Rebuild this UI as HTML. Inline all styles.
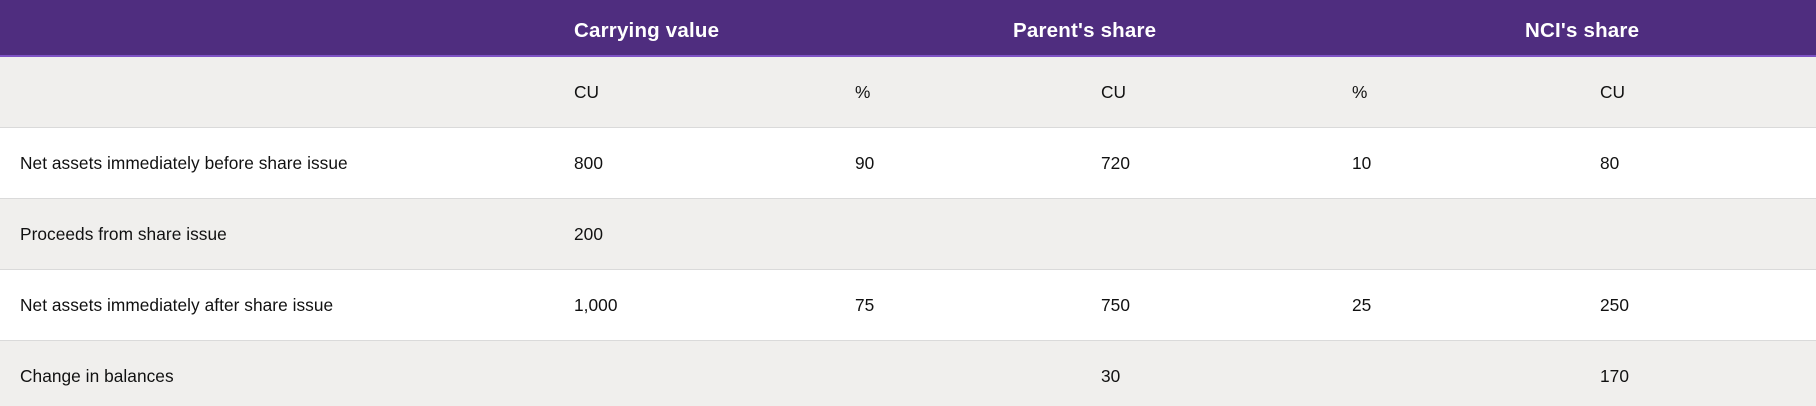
<!DOCTYPE html>
<html><head><meta charset="utf-8"><style>
body{margin:0;width:1816px;height:406px;overflow:hidden;background:#fff;font-family:"Liberation Sans",sans-serif;color:#111}
.hdr{position:absolute;left:0;top:0;width:1816px;height:57px;background:#4f2d7f;border-bottom:2px solid #7d52c4;box-sizing:border-box}
.row{position:absolute;left:0;width:1816px;height:71px;border-bottom:1px solid #dadada;box-sizing:border-box}
.g{background:#f0efed}.w{background:#fff}
.t{position:absolute;font-size:17.3px;letter-spacing:0.05px;white-space:nowrap}
.h{position:absolute;top:19px;font-size:20.5px;font-weight:bold;color:#fff;white-space:nowrap;letter-spacing:0.2px}
</style></head><body>
<div class="hdr">
<div class="h" style="left:574px">Carrying value</div>
<div class="h" style="left:1013px">Parent's share</div>
<div class="h" style="left:1525px">NCI's share</div>
</div>
<div class="row g" style="top:57px">
<div class="t" style="left:574px;top:25px">CU</div><div class="t" style="left:855px;top:25px">%</div><div class="t" style="left:1101px;top:25px">CU</div><div class="t" style="left:1352px;top:25px">%</div><div class="t" style="left:1600px;top:25px">CU</div>
</div>
<div class="row w" style="top:128px">
<div class="t" style="left:20px;top:25px">Net assets immediately before share issue</div>
<div class="t" style="left:574px;top:25px">800</div><div class="t" style="left:855px;top:25px">90</div><div class="t" style="left:1101px;top:25px">720</div><div class="t" style="left:1352px;top:25px">10</div><div class="t" style="left:1600px;top:25px">80</div>
</div>
<div class="row g" style="top:199px">
<div class="t" style="left:20px;top:25px">Proceeds from share issue</div>
<div class="t" style="left:574px;top:25px">200</div>
</div>
<div class="row w" style="top:270px">
<div class="t" style="left:20px;top:25px">Net assets immediately after share issue</div>
<div class="t" style="left:574px;top:25px">1,000</div><div class="t" style="left:855px;top:25px">75</div><div class="t" style="left:1101px;top:25px">750</div><div class="t" style="left:1352px;top:25px">25</div><div class="t" style="left:1600px;top:25px">250</div>
</div>
<div class="row g" style="top:341px;height:65px;border-bottom:none">
<div class="t" style="left:20px;top:25px">Change in balances</div>
<div class="t" style="left:1101px;top:25px">30</div><div class="t" style="left:1600px;top:25px">170</div>
</div>
</body></html>
